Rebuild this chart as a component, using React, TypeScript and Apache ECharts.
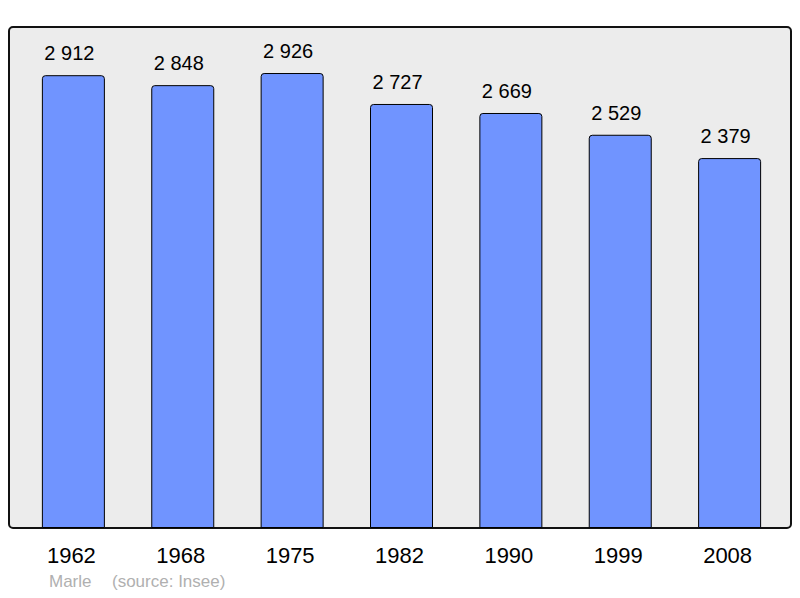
import { useEffect, useRef } from 'react';
import * as echarts from 'echarts';

const years = ['1962', '1968', '1975', '1982', '1990', '1999', '2008'];
const population = [2912, 2848, 2926, 2727, 2669, 2529, 2379];
const placeName = 'Marle';
const sourceText = '(source: Insee)';

const fmt = (v: number) => {
  const s = String(v);
  return s.length > 3 ? s.slice(0, s.length - 3) + ' ' + s.slice(-3) : s;
};

const App = () => {
  const chartRef = useRef<HTMLDivElement>(null);

  useEffect(() => {
    if (!chartRef.current) return;
    const chart = echarts.init(chartRef.current, null, { renderer: 'svg' });

    chart.setOption({
      animation: false,
      textStyle: { fontFamily: 'Liberation Sans' },
      grid: { left: 18.7, right: 15.7, top: 27, bottom: 70 },
      graphic: [
        {
          type: 'rect',
          z: -1,
          shape: { x: 9, y: 27, width: 782, height: 501, r: 4 },
          style: { fill: '#ececec', stroke: '#111', lineWidth: 2 },
        },
        {
          type: 'text',
          left: 49,
          top: 573,
          style: { text: placeName, fontSize: 17, fill: '#b0b0b0', fontFamily: 'Liberation Sans' },
        },
        {
          type: 'text',
          left: 112,
          top: 573,
          style: { text: sourceText, fontSize: 17, fill: '#b0b0b0', fontFamily: 'Liberation Sans' },
        },
      ],
      xAxis: {
        type: 'category',
        data: years,
        axisLine: { show: false },
        axisTick: { show: false },
        axisLabel: { color: '#000', fontSize: 22, margin: 16, padding: [0, 4, 0, 0] },
      },
      yAxis: {
        type: 'value',
        min: 0,
        max: 3222,
        show: false,
        splitLine: { show: false },
      },
      series: [
        {
          type: 'bar',
          data: population,
          barWidth: 63,
          itemStyle: {
            color: '#7094ff',
            borderColor: '#000',
            borderWidth: 1,
            borderRadius: [3, 3, 0, 0],
          },
          label: {
            show: true,
            position: 'top',
            distance: 12,
            offset: [-4, 0],
            color: '#000',
            fontSize: 20,
            formatter: (p: { value: number }) => fmt(p.value),
          },
        },
      ],
    });

    return () => {
      chart.dispose();
    };
  }, []);

  return <div ref={chartRef} style={{ width: '800px', height: '598px', margin: '-8px' }} />;
};

export default App;
